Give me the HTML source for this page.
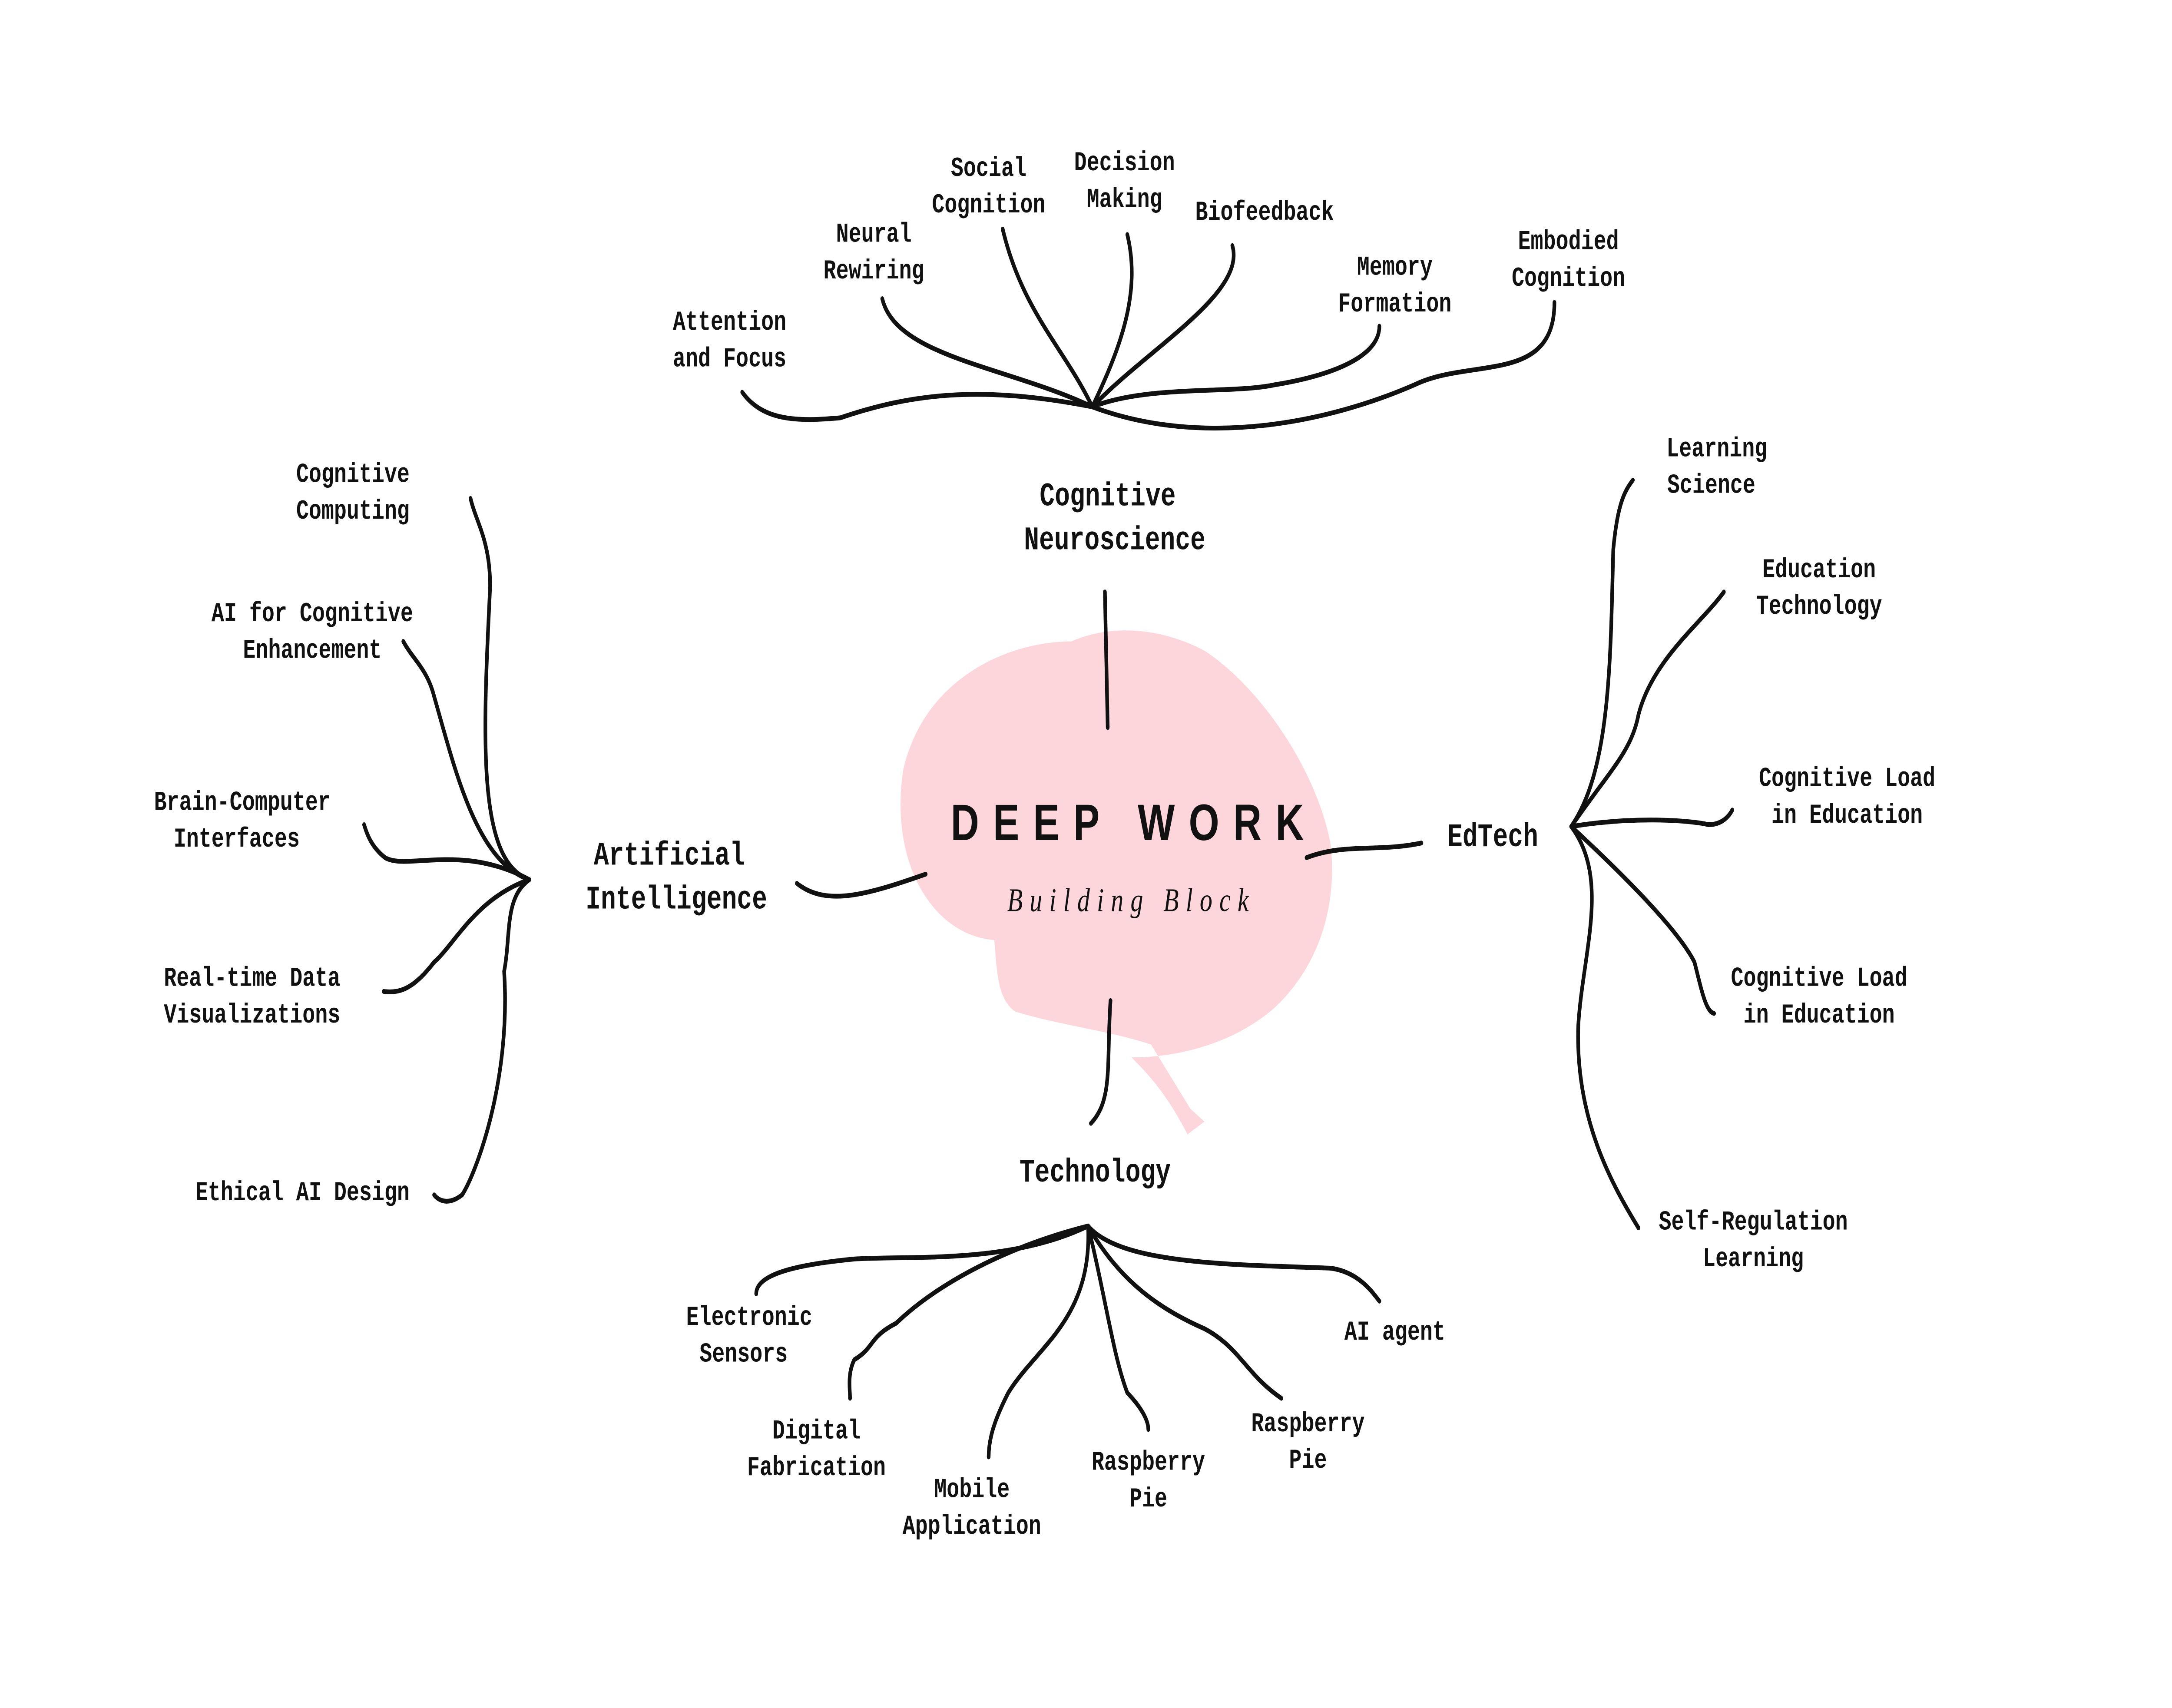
<!DOCTYPE html>
<html><head><meta charset="utf-8"><style>
html,body{margin:0;padding:0;background:#fff;width:100%;height:100%;overflow:hidden;}
svg{display:block;width:100vw;height:100vh;}
text{font-family:"Liberation Mono",monospace;font-weight:bold;fill:#111;}
.s{font-size:15px;}
.b{font-size:18px;}
path.l{fill:none;stroke:#111;stroke-width:2.6;stroke-linecap:round;}
</style></head><body>
<svg viewBox="0 0 1551 932" preserveAspectRatio="none" xmlns="http://www.w3.org/2000/svg">
<rect width="1551" height="932" fill="#fff"/>
<path d="M765,350 C720,350 660,370 645,420 C635,470 665,510 710,513 C712,530 712,545 725,552 C760,560 790,562 822,570 L850,605 L860,612 L848,619 C835,600 825,590 808,577 C840,577 880,570 910,550 C945,525 955,490 950,460 C940,420 900,375 860,355 C830,343 795,340 765,350 Z" fill="#fdd6dc"/>
<text x="810" y="451" text-anchor="middle" dominant-baseline="middle" style="font-family:'Liberation Sans',sans-serif;font-size:28px;letter-spacing:10px;font-weight:bold">DEEP WORK</text>
<text x="808" y="493" text-anchor="middle" dominant-baseline="middle" style="font-family:'Liberation Serif',serif;font-style:italic;font-weight:normal;font-size:18px;letter-spacing:5px">Building Block</text>

<g>
<path class="l" d="M789,323 L791,397"/>
<path class="l" d="M780,222 C700,210 650,215 600,228 C570,230 545,230 530,214"/>
<path class="l" d="M780,222 C720,200 640,195 630,163"/>
<path class="l" d="M780,222 C760,190 730,170 716,125"/>
<path class="l" d="M780,222 C800,190 815,160 805,128"/>
<path class="l" d="M780,222 C820,190 890,160 880,134"/>
<path class="l" d="M780,222 C820,210 880,215 910,210 C950,205 985,195 985,178"/>
<path class="l" d="M780,222 C860,245 950,230 1010,210 C1050,195 1110,210 1110,165"/>

<path class="l" d="M569,482 C590,495 620,488 661,477"/>
<path class="l" d="M378,480 C340,470 345,400 350,320 C350,295 340,285 336,272"/>
<path class="l" d="M378,480 C340,470 325,420 310,380 C305,365 295,360 288,350"/>
<path class="l" d="M378,480 C330,460 290,475 275,468 C265,462 262,455 260,450"/>
<path class="l" d="M378,480 C340,490 325,515 310,525 C295,540 285,542 274,541"/>
<path class="l" d="M378,480 C360,490 365,510 360,530 C365,590 340,640 330,652 C320,658 313,655 310,652"/>

<path class="l" d="M933,468 C960,460 985,465 1015,460"/>
<path class="l" d="M1122,451 C1150,420 1150,360 1152,300 C1155,275 1160,268 1166,262"/>
<path class="l" d="M1122,451 C1150,420 1165,410 1170,390 C1180,360 1215,340 1231,323"/>
<path class="l" d="M1122,451 C1170,445 1210,448 1220,450 C1230,450 1235,445 1237,442"/>
<path class="l" d="M1122,451 C1170,485 1200,510 1210,525 C1215,540 1218,552 1224,553"/>
<path class="l" d="M1122,451 C1150,480 1130,520 1127,560 C1125,610 1150,645 1170,670"/>

<path class="l" d="M793,546 C790,580 795,600 779,613"/>
<path class="l" d="M777,669 C720,690 650,685 610,687 C570,690 540,695 540,706"/>
<path class="l" d="M777,669 C720,680 670,700 640,722 C620,730 625,735 610,742 C605,750 607,758 607,763"/>
<path class="l" d="M777,669 C780,720 740,735 720,760 C710,775 706,785 706,795"/>
<path class="l" d="M777,669 C790,710 795,740 805,760 C815,768 820,775 820,780"/>
<path class="l" d="M777,669 C800,700 830,715 860,725 C885,735 890,750 915,763"/>
<path class="l" d="M777,669 C800,690 880,690 950,692 C970,694 980,705 985,710"/>
</g>

<g text-anchor="middle" dominant-baseline="middle">
<text class="b" x="791" y="271">Cognitive</text><text class="b" x="796" y="295">Neuroscience</text>
<text class="b" x="478" y="467">Artificial</text><text class="b" x="483" y="491">Intelligence</text>
<text class="b" x="1066" y="457">EdTech</text>
<text class="b" x="782" y="640">Technology</text>

<text class="s" x="521" y="176">Attention</text><text class="s" x="521" y="196">and Focus</text>
<text class="s" x="624" y="128">Neural</text><text class="s" x="624" y="148">Rewiring</text>
<text class="s" x="706" y="92">Social</text><text class="s" x="706" y="112">Cognition</text>
<text class="s" x="803" y="89">Decision</text><text class="s" x="803" y="109">Making</text>
<text class="s" x="903" y="116">Biofeedback</text>
<text class="s" x="996" y="146">Memory</text><text class="s" x="996" y="166">Formation</text>
<text class="s" x="1120" y="132">Embodied</text><text class="s" x="1120" y="152">Cognition</text>

<text class="s" x="252" y="259">Cognitive</text><text class="s" x="252" y="279">Computing</text>
<text class="s" x="223" y="335">AI for Cognitive</text><text class="s" x="223" y="355">Enhancement</text>
<text class="s" x="173" y="438">Brain-Computer</text><text class="s" x="169" y="458">Interfaces</text>
<text class="s" x="180" y="534">Real-time Data</text><text class="s" x="180" y="554">Visualizations</text>
<text class="s" x="216" y="651">Ethical AI Design</text>

<text class="s" x="1226" y="245">Learning</text><text class="s" x="1222" y="265">Science</text>
<text class="s" x="1299" y="311">Education</text><text class="s" x="1299" y="331">Technology</text>
<text class="s" x="1319" y="425">Cognitive Load</text><text class="s" x="1319" y="445">in Education</text>
<text class="s" x="1299" y="534">Cognitive Load</text><text class="s" x="1299" y="554">in Education</text>
<text class="s" x="1252" y="667">Self-Regulation</text><text class="s" x="1252" y="687">Learning</text>

<text class="s" x="996" y="727">AI agent</text>
<text class="s" x="535" y="719">Electronic</text><text class="s" x="531" y="739">Sensors</text>
<text class="s" x="583" y="781">Digital</text><text class="s" x="583" y="801">Fabrication</text>
<text class="s" x="694" y="813">Mobile</text><text class="s" x="694" y="833">Application</text>
<text class="s" x="820" y="798">Raspberry</text><text class="s" x="820" y="818">Pie</text>
<text class="s" x="934" y="777">Raspberry</text><text class="s" x="934" y="797">Pie</text>
</g>
</svg>
</body></html>
